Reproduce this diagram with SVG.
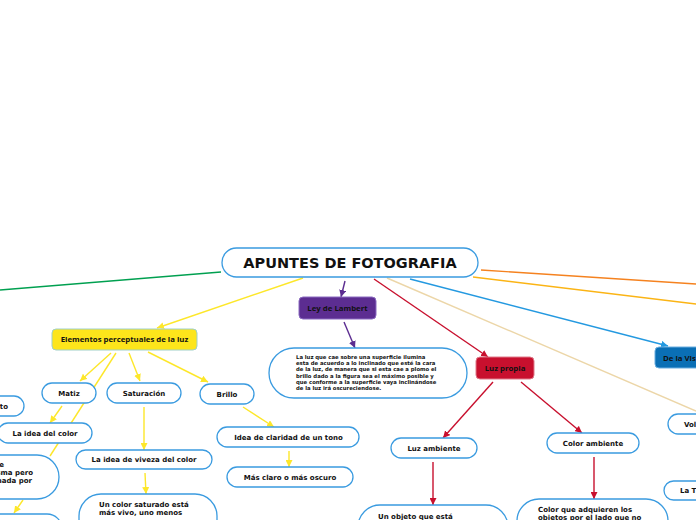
<svg xmlns="http://www.w3.org/2000/svg" width="696" height="520" viewBox="0 0 696 520">
<style>
.n{fill:#fff;stroke:#3a9be0;stroke-width:1.3}
.t{font-family:"DejaVu Sans",Verdana,sans-serif;font-weight:bold;font-size:7px;fill:#111}
.tc{text-anchor:middle}
.c{font-family:"Open Sans","Noto Sans",sans-serif;font-weight:bold;font-size:7.8px;fill:#111;text-anchor:middle}
.s{font-family:"DejaVu Sans",Verdana,sans-serif;font-weight:bold;font-size:5.3px;fill:#111}
.l{fill:none;stroke-width:1.4}
</style>
<defs>
<marker id="ay" viewBox="0 0 10 10" refX="10" refY="5" markerWidth="7" markerHeight="7" markerUnits="userSpaceOnUse" orient="auto"><path d="M0,0L10,5L0,10z" fill="#fde72a"/></marker>
<marker id="ap" viewBox="0 0 10 10" refX="10" refY="5" markerWidth="7" markerHeight="7" markerUnits="userSpaceOnUse" orient="auto"><path d="M0,0L10,5L0,10z" fill="#5c2d91"/></marker>
<marker id="ar" viewBox="0 0 10 10" refX="10" refY="5" markerWidth="7" markerHeight="7" markerUnits="userSpaceOnUse" orient="auto"><path d="M0,0L10,5L0,10z" fill="#c8102e"/></marker>
<marker id="ab" viewBox="0 0 10 10" refX="10" refY="5" markerWidth="7" markerHeight="7" markerUnits="userSpaceOnUse" orient="auto"><path d="M0,0L10,5L0,10z" fill="#2499e0"/></marker>
</defs>
<rect width="696" height="520" fill="#fff"/>
<g id="connectors">
<line class="l" x1="221" y1="272" x2="0" y2="290" stroke="#00a050"/>
<line class="l" x1="481" y1="270" x2="696" y2="284" stroke="#f5821f"/>
<line class="l" x1="473" y1="277" x2="696" y2="304" stroke="#fbb415"/>
<line class="l" x1="410" y1="279" x2="668" y2="346" stroke="#2499e0" marker-end="url(#ab)"/>
<line class="l" x1="387" y1="278" x2="696" y2="411" stroke="#ecd6a8"/>
<line class="l" x1="374" y1="279" x2="488" y2="357" stroke="#c8102e" marker-end="url(#ar)"/>
<line class="l" x1="345" y1="281" x2="341" y2="297" stroke="#5c2d91" marker-end="url(#ap)"/>
<line class="l" x1="344" y1="322" x2="355" y2="348" stroke="#5c2d91" marker-end="url(#ap)"/>
<line class="l" x1="303" y1="278" x2="157" y2="328" stroke="#fde72a" marker-end="url(#ay)"/>
<line class="l" x1="111" y1="353" x2="80" y2="381" stroke="#fde72a" marker-end="url(#ay)"/>
<line class="l" x1="116" y1="353" x2="50" y2="456" stroke="#fde72a"/>
<line class="l" x1="129" y1="353" x2="140" y2="381" stroke="#fde72a" marker-end="url(#ay)"/>
<line class="l" x1="148" y1="352" x2="208" y2="382" stroke="#fde72a" marker-end="url(#ay)"/>
<line class="l" x1="62" y1="406" x2="50" y2="423" stroke="#fde72a" marker-end="url(#ay)"/>
<line class="l" x1="23" y1="500" x2="14" y2="513" stroke="#fde72a" marker-end="url(#ay)"/>
<line class="l" x1="144" y1="407" x2="144" y2="450" stroke="#fde72a" marker-end="url(#ay)"/>
<line class="l" x1="145" y1="473" x2="146" y2="494" stroke="#fde72a" marker-end="url(#ay)"/>
<line class="l" x1="243" y1="407" x2="274" y2="427" stroke="#fde72a" marker-end="url(#ay)"/>
<line class="l" x1="289" y1="451" x2="289" y2="467" stroke="#fde72a" marker-end="url(#ay)"/>
<line class="l" x1="493" y1="382" x2="443" y2="438" stroke="#c8102e" marker-end="url(#ar)"/>
<line class="l" x1="521" y1="382" x2="582" y2="433" stroke="#c8102e" marker-end="url(#ar)"/>
<line class="l" x1="433" y1="462" x2="433" y2="505" stroke="#c8102e" marker-end="url(#ar)"/>
<line class="l" x1="594" y1="457" x2="594" y2="499" stroke="#c8102e" marker-end="url(#ar)"/>
</g>
<g id="root">
<rect class="n" x="222" y="248" width="256" height="29" rx="14.5"/>
<text x="350" y="268" style="font-family:'DejaVu Sans',Verdana,sans-serif;font-weight:bold;font-size:14.5px;fill:#111;text-anchor:middle">APUNTES DE FOTOGRAFIA</text>
</g>
<g id="ley-lambert">
<rect x="299" y="297" width="77" height="22" rx="4" fill="#5c2d91" stroke="#8a6bc0" stroke-width="1"/>
<text class="c" x="337.5" y="310.5">Ley de Lambert</text>
</g>
<g id="lambert-text">
<rect class="n" x="269" y="348" width="198" height="50" rx="25"/>
<text class="s" x="296" y="359">La luz que cae sobre una superficie ilumina</text>
<text class="s" x="296" y="365.2">esta de acuerdo a lo inclinado que esté la cara</text>
<text class="s" x="296" y="371.4">de la luz, de manera que si esta cae a plomo el</text>
<text class="s" x="296" y="377.6">brillo dado a la figura sea el máximo posible y</text>
<text class="s" x="296" y="383.8">que conforme a la superficie vaya inclinándose</text>
<text class="s" x="296" y="390">de la luz irá oscureciendose.</text>
</g>
<g id="elementos">
<rect x="52" y="329" width="145" height="21" rx="4" fill="#fde51b" stroke="#9fd0c8" stroke-width="1"/>
<text class="c" x="124.5" y="342.2">Elementos perceptuales de la luz</text>
</g>
<g id="matiz">
<rect class="n" x="42" y="383" width="54" height="20" rx="10"/>
<text class="t tc" x="69" y="395.5">Matiz</text>
</g>
<g id="saturacion">
<rect class="n" x="107" y="383" width="74" height="20" rx="10"/>
<text class="t tc" x="144" y="395.5">Saturación</text>
</g>
<g id="brillo">
<rect class="n" x="200" y="384" width="54" height="20" rx="10"/>
<text class="t tc" x="227" y="396.5">Brillo</text>
</g>
<g id="to-node">
<rect class="n" x="-40" y="396" width="64" height="20" rx="10"/>
<text class="t" x="8" y="408.5" text-anchor="end">to</text>
</g>
<g id="idea-color">
<rect class="n" x="-2" y="423" width="94" height="20" rx="10"/>
<text class="t tc" x="45" y="435.5">La idea del color</text>
</g>
<g id="left-bubble">
<rect class="n" x="-80" y="455" width="139" height="44" rx="22"/>
<text class="t" x="4" y="467" text-anchor="end">e</text>
<text class="t" x="33" y="475" text-anchor="end">sma pero</text>
<text class="t" x="32" y="483" text-anchor="end">nada por</text>
</g>
<g id="left-bottom">
<rect class="n" x="-60" y="514" width="122" height="30" rx="15"/>
</g>
<g id="viveza">
<rect class="n" x="76" y="450" width="136" height="19" rx="9.5"/>
<text class="t tc" x="144" y="462">La idea de viveza del color</text>
</g>
<g id="saturado">
<rect class="n" x="79" y="494" width="138" height="50" rx="22"/>
<text class="t" x="99" y="507">Un color saturado está</text>
<text class="t" x="99" y="515">más vivo, uno menos</text>
</g>
<g id="claridad">
<rect class="n" x="217" y="427" width="142" height="20" rx="10"/>
<text class="t tc" x="288.5" y="439.5">Idea de claridad de un tono</text>
</g>
<g id="mas-claro">
<rect class="n" x="227" y="467" width="126" height="20" rx="10"/>
<text class="t tc" x="290" y="479.5">Más claro o más oscuro</text>
</g>
<g id="luz-propia">
<rect x="476" y="357" width="58" height="22" rx="4" fill="#c8102e" stroke="#e07a8a" stroke-width="1"/>
<text class="c" x="505" y="370.5">Luz propia</text>
</g>
<g id="luz-ambiente">
<rect class="n" x="391" y="438" width="86" height="20" rx="10"/>
<text class="t tc" x="434" y="450.5">Luz ambiente</text>
</g>
<g id="objeto">
<rect class="n" x="358" y="505" width="150" height="50" rx="22"/>
<text class="t" x="378" y="519">Un objeto que está</text>
</g>
<g id="color-ambiente">
<rect class="n" x="547" y="433" width="92" height="20" rx="10"/>
<text class="t tc" x="593" y="445.5">Color ambiente</text>
</g>
<g id="color-adquieren">
<rect class="n" x="517" y="499" width="151" height="50" rx="22"/>
<text class="t" x="538" y="512">Color que adquieren los</text>
<text class="t" x="538" y="520">objetos por el lado que no</text>
</g>
<g id="de-la-vision">
<rect x="655" y="347" width="80" height="21" rx="4" fill="#0a6fb5" stroke="#6aaee0" stroke-width="1"/>
<text class="c" x="663" y="360.5" style="text-anchor:start">De la Vis</text>
</g>
<g id="vol">
<rect class="n" x="668" y="414" width="80" height="20" rx="10"/>
<text class="t" x="684" y="426.5">Vol</text>
</g>
<g id="la-t">
<rect class="n" x="664" y="481" width="80" height="19" rx="9.5"/>
<text class="t" x="680" y="493">La T</text>
</g>
</svg>
